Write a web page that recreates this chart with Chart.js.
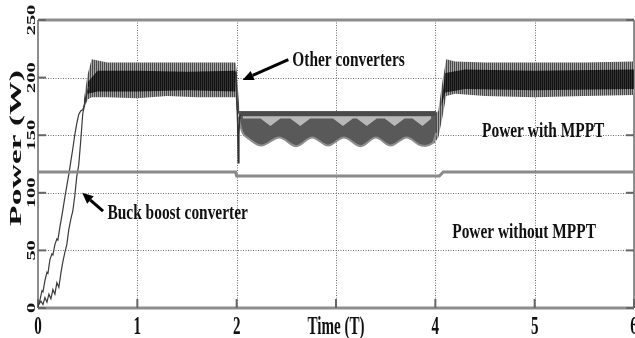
<!DOCTYPE html>
<html>
<head>
<meta charset="utf-8">
<script src="https://cdn.jsdelivr.net/npm/chart.js@4.4.1/dist/chart.umd.min.js"></script>
<style>
  html, body { margin: 0; padding: 0; background: #fff; }
  canvas { display: block; }
</style>
</head>
<body>
<canvas id="powerChart" width="635" height="338"></canvas>
<script>
// ---- values (time in T, power in W) ----
const xTicks = [0, 1, 2, 3, 4, 5, 6];
const yTicks = [0, 50, 100, 150, 200, 250];

// power without MPPT
const noMpptT = [0, 1.99, 2.0, 4.04, 4.08, 6];
const noMpptP = [118, 118, 114.5, 114.5, 118, 118];

// start-up traces
const mpptRampT = [0, 0.02, 0.04, 0.05, 0.07, 0.09, 0.10, 0.12, 0.14, 0.15, 0.17, 0.19, 0.20, 0.22, 0.24, 0.25, 0.27, 0.29, 0.31, 0.33, 0.35, 0.37, 0.39, 0.41, 0.43, 0.45, 0.47, 0.49, 0.51];
const mpptRampP = [1, 7, 15, 14, 24, 31, 30, 42, 47, 46, 55, 60, 59, 70, 80, 85, 96, 106, 116, 127, 138, 150, 160, 168, 171, 172, 177, 185, 192];
const buckRampT = [0, 0.03, 0.05, 0.07, 0.09, 0.11, 0.13, 0.15, 0.17, 0.19, 0.21, 0.23, 0.25, 0.27, 0.29, 0.31, 0.33, 0.35, 0.37, 0.39, 0.41, 0.43, 0.45, 0.47, 0.49];
const buckRampP = [2, 6, 3, 9, 5, 12, 8, 16, 12, 22, 18, 30, 40, 48, 55, 68, 77, 84, 97, 114, 124, 145, 168, 178, 187];

// ripple envelope with MPPT, t < 2
const bandAT = [0.46, 0.50, 0.54, 0.70, 1.00, 1.30, 1.60, 1.99, 2.00, 2.03];
const bandALo = [172, 181, 183, 183, 182, 184, 183, 183, 172, 166];
const bandAHi = [180, 203, 216, 213, 213, 213, 213, 213, 206, 170];
const coreAT = [0.50, 0.60, 1.00, 1.50, 1.99];
const coreALo = [186, 188, 188, 189, 188];
const coreAHi = [196, 206, 206, 205, 206];

// drop at t = 2
const dropT = [1.99, 2.0, 2.01, 2.016, 2.022, 2.03, 2.05];
const dropP = [205, 190, 160, 126, 150, 166, 169];

// reduced power, 2 < t < 4
const dipT = [2.02, 2.06, 2.12, 2.25, 2.43, 2.60, 2.76, 2.92, 3.08, 3.25, 3.40, 3.55, 3.71, 3.86, 3.97, 4.01];
const dipLo = [166, 152, 147, 141, 148, 140.5, 148, 141, 148, 140.5, 148, 141, 148, 141, 143, 152];
const wedgeT = [2.06, 2.24, 2.34, 2.44, 2.54, 2.64, 2.74, 2.97, 3.07, 3.17, 3.21, 3.31, 3.41, 3.49, 3.59, 3.69, 3.77, 3.87, 3.96];
const wedgeP = [164.5, 164.5, 158, 164.5, 164.5, 158, 164.5, 164.5, 158, 164.5, 164.5, 158, 164.5, 164.5, 158, 164.5, 164.5, 158, 164.5];
const edgeT = [2.04, 4.0];
const edgeP = [168.5, 168.5];

// ripple envelope with MPPT, t > 4
const bandBT = [3.98, 4.03, 4.07, 4.11, 4.20, 4.50, 5.00, 5.50, 6.00];
const bandBLo = [142, 148, 165, 184, 186, 184, 183, 184, 185];
const bandBHi = [168, 171, 196, 216, 214, 213, 213, 213, 214];
const coreBT = [4.06, 4.10, 4.30, 5.00, 6.00];
const coreBLo = [175, 187, 190, 189, 190];
const coreBHi = [178, 204, 207, 206, 207];

const pts = (xs, ys) => xs.map((x, i) => ({ x: x, y: ys[i] }));

const canvas = document.getElementById('powerChart');
const ctx = canvas.getContext('2d');

// vertical striations for the ripple bands
function stripes(base, line) {
    const p = document.createElement('canvas');
    p.width = 2; p.height = 4;
    const g = p.getContext('2d');
    g.fillStyle = base; g.fillRect(0, 0, 2, 4);
    g.fillStyle = line; g.fillRect(0, 0, 1, 4);
    return ctx.createPattern(p, 'repeat');
}
const outerFill = stripes('#a4a4a4', '#4a4a4a');
const coreFill = stripes('#333333', '#111111');

function edge(xs, ys, order) {
    return { data: pts(xs, ys), borderWidth: 0, borderColor: 'rgba(0,0,0,0)', fill: false, order: order };
}
function band(xs, ys, color, order) {
    return { data: pts(xs, ys), borderWidth: 0, borderColor: 'rgba(0,0,0,0)', backgroundColor: color, fill: '-1', order: order };
}

const datasets = [
    edge(bandAT, bandALo, 9), band(bandAT, bandAHi, outerFill, 9),
    edge(coreAT, coreALo, 8), band(coreAT, coreAHi, coreFill, 8),
    edge(bandBT, bandBLo, 9), band(bandBT, bandBHi, outerFill, 9),
    edge(coreBT, coreBLo, 8), band(coreBT, coreBHi, coreFill, 8),
    { data: pts(dipT, dipLo), borderColor: '#8e8e8e', borderWidth: 2, backgroundColor: '#595959', fill: { value: 171 }, tension: 0.35, order: 7 },
    { data: pts(wedgeT, wedgeP), borderWidth: 0, borderColor: 'rgba(0,0,0,0)', backgroundColor: '#b8b8b8', fill: { value: 166.5 }, order: 6 },
    { data: pts(edgeT, edgeP), borderColor: '#4a4a4a', borderWidth: 4, fill: false, order: 5 },
    { data: pts(dropT, dropP), borderColor: '#333', borderWidth: 1.5, fill: false, order: 5 },
    { data: pts(mpptRampT, mpptRampP), borderColor: '#3a3a3a', borderWidth: 1.2, fill: false, order: 4 },
    { data: pts(buckRampT, buckRampP), borderColor: '#3a3a3a', borderWidth: 1.2, fill: false, order: 4 },
    { data: pts(noMpptT, noMpptP), borderColor: '#8a8a8a', borderWidth: 3, fill: false, order: 3 }
];

function drawText(c, str, x, y, size, sx, sy, angle, align) {
    c.save();
    c.translate(x, y);
    if (angle) c.rotate(angle);
    c.scale(sx, sy);
    c.font = 'bold ' + size + 'px "Liberation Serif", "Times New Roman", serif';
    c.textAlign = align;
    c.textBaseline = 'middle';
    c.fillStyle = '#111';
    c.fillText(str, 0, 0);
    c.restore();
}

function arrow(c, x1, y1, x2, y2) {
    const a = Math.atan2(y2 - y1, x2 - x1);
    const len = 11, half = 5;
    const bx = x2 - len * Math.cos(a), by = y2 - len * Math.sin(a);
    c.save();
    c.strokeStyle = '#000';
    c.fillStyle = '#000';
    c.lineWidth = 3;
    c.beginPath();
    c.moveTo(x1, y1);
    c.lineTo(bx, by);
    c.stroke();
    c.beginPath();
    c.moveTo(x2, y2);
    c.lineTo(bx + half * Math.sin(a), by - half * Math.cos(a));
    c.lineTo(bx - half * Math.sin(a), by + half * Math.cos(a));
    c.closePath();
    c.fill();
    c.restore();
}

const notes = [
    { text: 'Other converters', at: [2.56, 215], from: [2.52, 215.5], to: [2.06, 198] },
    { text: 'Buck boost converter', at: [0.70, 82], from: [0.655, 84], to: [0.445, 100] },
    { text: 'Power with MPPT', at: [4.47, 153] },
    { text: 'Power without MPPT', at: [4.17, 65.5] }
];

const matlabFrame = {
    id: 'matlabFrame',
    beforeDatasetsDraw(chart) {
        const c = chart.ctx, a = chart.chartArea;
        const xs = chart.scales.x, ys = chart.scales.y;
        c.save();
        // dotted grid
        c.strokeStyle = '#6e6e6e';
        c.lineWidth = 1;
        c.setLineDash([1, 1.5]);
        xs.ticks.forEach(t => {
            const px = Math.round(xs.getPixelForValue(t.value)) + 0.5;
            c.beginPath(); c.moveTo(px, a.top); c.lineTo(px, a.bottom); c.stroke();
        });
        ys.ticks.forEach(t => {
            const py = Math.round(ys.getPixelForValue(t.value)) + 0.5;
            c.beginPath(); c.moveTo(a.left, py); c.lineTo(a.right, py); c.stroke();
        });
        c.setLineDash([]);
        // frame
        c.strokeStyle = '#8d8d8d';
        c.lineWidth = 3;
        c.beginPath(); c.moveTo(a.left, a.top); c.lineTo(a.right, a.top); c.stroke();
        c.beginPath(); c.moveTo(a.left, a.bottom); c.lineTo(a.right, a.bottom); c.stroke();
        c.lineWidth = 2;
        c.beginPath(); c.moveTo(a.left, a.top); c.lineTo(a.left, a.bottom); c.stroke();
        c.beginPath(); c.moveTo(a.right, a.top); c.lineTo(a.right, a.bottom); c.stroke();
        // inward tick marks
        c.strokeStyle = '#666';
        xs.ticks.forEach(t => {
            const px = xs.getPixelForValue(t.value);
            c.beginPath(); c.moveTo(px, a.bottom); c.lineTo(px, a.bottom - 9); c.stroke();
        });
        ys.ticks.forEach(t => {
            const py = ys.getPixelForValue(t.value);
            c.beginPath(); c.moveTo(a.left, py); c.lineTo(a.left + 8, py); c.stroke();
            c.beginPath(); c.moveTo(a.right, py); c.lineTo(a.right - 8, py); c.stroke();
        });
        c.restore();
    },
    afterDraw(chart) {
        const c = chart.ctx;
        const xs = chart.scales.x, ys = chart.scales.y;
        xs.ticks.forEach(t => {
            const label = t.value === 3 ? 'Time (T)' : String(t.value);
            drawText(c, label, xs.getPixelForValue(t.value), 327, 26, 0.58, 1, 0, 'center');
        });
        ys.ticks.forEach(t => {
            drawText(c, String(t.value), 31.5, ys.getPixelForValue(t.value), 12, 1.7, 1, -Math.PI / 2, 'center');
        });
        drawText(c, 'Power (W)', 16.5, 148, 16, 2.1, 1, -Math.PI / 2, 'center');
        notes.forEach(n => {
            drawText(c, n.text, xs.getPixelForValue(n.at[0]), ys.getPixelForValue(n.at[1]), 22, 0.7, 1, 0, 'left');
            if (n.from) {
                arrow(c, xs.getPixelForValue(n.from[0]), ys.getPixelForValue(n.from[1]),
                         xs.getPixelForValue(n.to[0]), ys.getPixelForValue(n.to[1]));
            }
        });
    }
};

new Chart(canvas, {
    type: 'line',
    data: { datasets: datasets },
    options: {
        responsive: false,
        animation: false,
        devicePixelRatio: 1,
        layout: { padding: { top: 20, right: 1, left: 0, bottom: 0 } },
        elements: { point: { radius: 0 }, line: { tension: 0 } },
        plugins: { legend: { display: false }, tooltip: { enabled: false } },
        scales: {
            x: {
                type: 'linear', min: 0, max: 6,
                afterBuildTicks: s => { s.ticks = xTicks.map(v => ({ value: v })); },
                afterFit: s => { s.height = 30; },
                ticks: { display: false },
                grid: { display: false },
                border: { display: false }
            },
            y: {
                min: 0, max: 250,
                afterBuildTicks: s => { s.ticks = yTicks.map(v => ({ value: v })); },
                afterFit: s => { s.width = 38; },
                ticks: { display: false },
                grid: { display: false },
                border: { display: false }
            }
        }
    },
    plugins: [matlabFrame]
});
</script>
</body>
</html>
